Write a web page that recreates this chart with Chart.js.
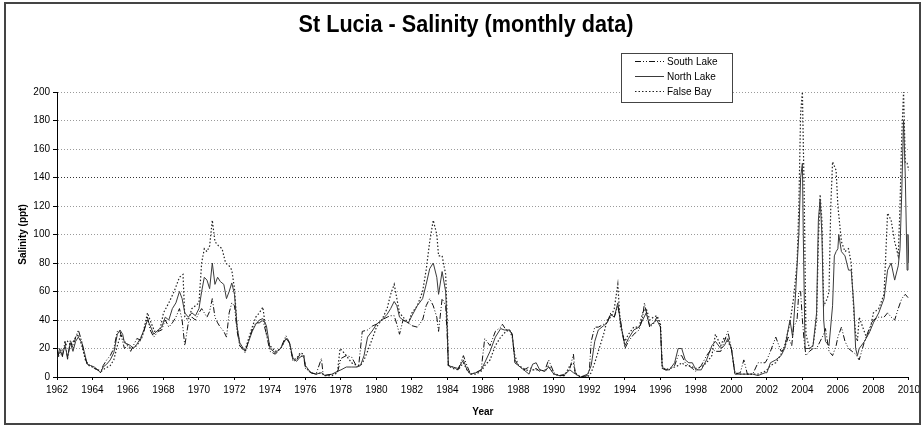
<!DOCTYPE html>
<html>
<head>
<meta charset="utf-8">
<script src="https://cdn.jsdelivr.net/npm/chart.js@4/dist/chart.umd.min.js"></script>
<style>
  html, body { margin: 0; padding: 0; background: #fff; }
</style>
</head>
<body>
<canvas id="chart" width="924" height="425"></canvas>
<script>
// labels
const titleText = 'St Lucia - Salinity (monthly data)';
const yTitle = 'Salinity (ppt)';
const xTitle = 'Year';
const seriesNames = ['South Lake', 'North Lake', 'False Bay'];
const yearTicks = [1962, 1964, 1966, 1968, 1970, 1972, 1974, 1976, 1978, 1980, 1982, 1984,
  1986, 1988, 1990, 1992, 1994, 1996, 1998, 2000, 2002, 2004, 2006, 2008, 2010];
const salinityTicks = [0, 20, 40, 60, 80, 100, 120, 140, 160, 180, 200];

// [year, salinity ppt]
const southLake = [
  [1962.0,13],[1962.15,18],[1962.3,14],[1962.45,25],[1962.6,12],[1962.75,26],[1962.9,20],[1963.05,28],
  [1963.2,33],[1963.4,25],[1963.55,15],[1963.7,9],[1963.9,8],[1964.1,6],[1964.3,5],[1964.45,3],
  [1964.6,8],[1964.8,12],[1965.0,15],[1965.2,20],[1965.4,32],[1965.55,32],[1965.7,25],[1965.8,20],
  [1966.0,22],[1966.15,18],[1966.3,22],[1966.5,27],[1966.7,26],[1966.9,32],[1967.1,42],[1967.25,33],
  [1967.45,28],[1967.7,32],[1967.9,33],[1968.1,40],[1968.3,35],[1968.5,38],[1968.7,42],[1968.9,48],
  [1969.05,40],[1969.2,22],[1969.4,38],[1969.6,42],[1969.8,40],[1970.0,45],[1970.15,48],[1970.3,45],
  [1970.45,42],[1970.6,46],[1970.75,55],[1970.9,42],[1971.05,38],[1971.2,35],[1971.4,32],[1971.55,28],
  [1971.7,45],[1971.85,52],[1972.0,50],[1972.15,32],[1972.3,22],[1972.5,19],[1972.6,17],[1972.8,26],
  [1973.0,33],[1973.2,38],[1973.4,38],[1973.6,40],[1973.8,30],[1974.0,18],[1974.3,16],[1974.6,20],
  [1974.9,29],[1975.1,24],[1975.3,11],[1975.5,12],[1975.7,16],[1975.9,14],[1976.0,6],[1976.3,3],
  [1976.6,2],[1976.9,13],[1977.0,1],[1977.5,2],[1977.8,3],[1978.0,13],[1978.3,15],[1978.6,14],
  [1978.9,7],[1979.0,8],[1979.2,32],[1979.5,33],[1979.8,36],[1980.0,37],[1980.3,40],[1980.6,42],
  [1980.8,43],[1981.0,43],[1981.15,37],[1981.3,30],[1981.5,40],[1981.8,38],[1982.0,36],[1982.3,35],
  [1982.6,40],[1982.8,50],[1983.0,55],[1983.2,50],[1983.4,42],[1983.5,32],[1983.7,55],[1983.9,50],
  [1984.0,25],[1984.05,8],[1984.3,7],[1984.6,5],[1984.9,15],[1985.1,8],[1985.3,2],[1985.6,3],
  [1985.9,5],[1986.1,27],[1986.4,22],[1986.7,32],[1987.0,35],[1987.1,37],[1987.3,33],[1987.5,33],
  [1987.65,30],[1987.8,10],[1988.0,8],[1988.3,5],[1988.6,7],[1988.8,5],[1989.0,6],[1989.2,4],
  [1989.5,5],[1989.7,12],[1990.0,3],[1990.3,1],[1990.6,1],[1990.9,6],[1991.1,16],[1991.2,2],
  [1991.5,0],[1991.9,1],[1992.0,5],[1992.1,25],[1992.3,35],[1992.5,35],[1992.8,37],[1993.0,38],
  [1993.2,45],[1993.4,42],[1993.6,50],[1993.75,40],[1994.0,20],[1994.2,25],[1994.5,30],[1994.8,33],
  [1995.0,42],[1995.1,52],[1995.3,40],[1995.4,35],[1995.6,37],[1995.8,42],[1996.0,36],[1996.1,6],
  [1996.3,5],[1996.5,5],[1996.8,8],[1997.0,15],[1997.2,15],[1997.4,10],[1997.6,8],[1997.8,6],
  [1998.0,4],[1998.3,8],[1998.6,15],[1998.9,20],[1999.1,18],[1999.4,18],[1999.6,25],[1999.8,32],
  [2000.0,20],[2000.2,2],[2000.5,3],[2000.7,12],[2000.9,2],[2001.2,2],[2001.5,10],[2001.9,10],
  [2002.0,12],[2002.2,18],[2002.5,28],[2002.8,18],[2003.0,20],[2003.2,28],[2003.4,22],[2003.5,35],
  [2003.7,40],[2003.8,60],[2003.9,60],[2004.0,40],[2004.1,25],[2004.2,15],[2004.4,18],[2004.6,20],
  [2004.8,20],[2005.0,25],[2005.2,30],[2005.3,34],[2005.5,18],[2005.7,15],[2005.9,22],[2006.0,28],
  [2006.2,35],[2006.4,25],[2006.6,20],[2006.8,18],[2007.0,16],[2007.2,12],[2007.5,25],[2007.8,35],
  [2008.0,40],[2008.3,42],[2008.6,42],[2008.8,45],[2009.0,42],[2009.2,40],[2009.4,48],[2009.6,55],
  [2009.8,58],[2010.0,55],[2010.05,57]
];

const northLake = [
  [1962.0,13],[1962.15,20],[1962.3,15],[1962.45,22],[1962.6,14],[1962.75,24],[1962.9,18],[1963.05,25],
  [1963.2,28],[1963.4,24],[1963.55,17],[1963.7,9],[1963.9,8],[1964.1,7],[1964.3,5],[1964.45,3],
  [1964.6,7],[1964.8,9],[1965.0,12],[1965.2,17],[1965.4,30],[1965.55,33],[1965.7,30],[1965.8,24],
  [1966.0,23],[1966.15,22],[1966.3,20],[1966.5,23],[1966.7,27],[1966.9,33],[1967.1,40],[1967.25,36],
  [1967.45,30],[1967.7,33],[1967.9,35],[1968.1,42],[1968.3,40],[1968.5,48],[1968.7,52],[1968.9,60],
  [1969.05,55],[1969.2,45],[1969.4,42],[1969.6,45],[1969.8,43],[1970.0,48],[1970.15,60],[1970.3,70],
  [1970.45,68],[1970.6,62],[1970.75,80],[1970.9,65],[1971.05,70],[1971.2,67],[1971.4,65],[1971.55,55],
  [1971.7,60],[1971.85,66],[1972.0,58],[1972.15,35],[1972.3,24],[1972.5,20],[1972.6,18],[1972.8,25],
  [1973.0,32],[1973.2,37],[1973.4,40],[1973.6,41],[1973.8,36],[1974.0,20],[1974.3,17],[1974.6,20],
  [1974.9,27],[1975.1,24],[1975.3,13],[1975.5,11],[1975.7,14],[1975.9,15],[1976.0,8],[1976.3,3],
  [1976.6,2],[1976.9,3],[1977.1,1],[1977.5,2],[1977.8,4],[1978.0,5],[1978.3,7],[1978.6,7],
  [1978.9,7],[1979.1,8],[1979.3,15],[1979.5,28],[1979.8,33],[1980.0,37],[1980.3,40],[1980.6,44],
  [1980.8,48],[1981.0,53],[1981.15,50],[1981.3,42],[1981.5,40],[1981.8,38],[1982.0,43],[1982.3,50],
  [1982.6,55],[1982.8,65],[1983.0,76],[1983.2,80],[1983.4,70],[1983.5,58],[1983.7,74],[1983.9,60],
  [1984.0,30],[1984.05,8],[1984.3,7],[1984.6,6],[1984.9,12],[1985.1,5],[1985.3,2],[1985.6,3],
  [1985.9,5],[1986.1,10],[1986.4,18],[1986.7,28],[1987.0,34],[1987.2,33],[1987.5,33],[1987.65,30],
  [1987.8,12],[1988.0,8],[1988.3,5],[1988.6,2],[1988.8,9],[1989.0,10],[1989.2,5],[1989.5,4],
  [1989.7,7],[1990.0,2],[1990.3,1],[1990.6,2],[1990.9,5],[1991.1,3],[1991.5,0],[1991.9,2],
  [1992.1,8],[1992.3,25],[1992.5,33],[1992.8,36],[1993.0,38],[1993.2,44],[1993.4,42],[1993.6,52],
  [1993.75,38],[1994.0,22],[1994.2,27],[1994.5,33],[1994.8,35],[1995.0,40],[1995.2,45],[1995.4,36],
  [1995.6,38],[1995.8,40],[1996.0,35],[1996.1,7],[1996.3,5],[1996.5,5],[1996.8,10],[1997.0,20],
  [1997.2,20],[1997.4,12],[1997.6,10],[1997.8,10],[1998.0,5],[1998.3,5],[1998.6,12],[1998.9,22],
  [1999.1,25],[1999.4,20],[1999.6,22],[1999.8,27],[2000.0,20],[2000.2,2],[2000.5,2],[2000.9,2],
  [2001.2,2],[2001.5,1],[2001.9,3],[2002.0,3],[2002.2,10],[2002.5,12],[2002.8,15],[2003.0,20],
  [2003.3,40],[2003.45,28],[2003.6,55],[2003.8,100],[2003.9,140],[2004.0,150],[2004.05,100],[2004.15,20],
  [2004.4,20],[2004.6,22],[2004.8,45],[2004.9,110],[2005.0,125],[2005.1,100],[2005.2,40],[2005.3,25],
  [2005.5,22],[2005.7,50],[2005.8,85],[2005.9,88],[2006.0,90],[2006.05,100],[2006.2,88],[2006.4,85],
  [2006.6,75],[2006.75,75],[2006.9,50],[2007.0,20],[2007.1,15],[2007.2,20],[2007.5,25],[2007.8,32],
  [2008.0,38],[2008.3,45],[2008.6,55],[2008.8,75],[2009.0,80],[2009.2,68],[2009.4,78],[2009.5,90],
  [2009.6,130],[2009.7,180],[2009.8,140],[2009.9,75],[2009.95,100],[2010.0,80],[2010.05,110]
];

const falseBay = [
  [1962.0,12],[1962.2,18],[1962.4,20],[1962.6,25],[1962.8,22],[1963.0,27],[1963.2,30],[1963.4,22],
  [1963.6,12],[1963.8,8],[1964.0,7],[1964.3,5],[1964.5,4],[1964.7,6],[1965.0,8],[1965.2,12],
  [1965.4,22],[1965.6,30],[1965.8,25],[1966.0,22],[1966.2,20],[1966.5,22],[1966.8,28],[1967.1,45],
  [1967.3,38],[1967.5,32],[1967.8,33],[1968.0,45],[1968.3,52],[1968.6,60],[1968.9,70],[1969.1,72],
  [1969.2,42],[1969.4,40],[1969.6,48],[1969.8,50],[1970.0,52],[1970.15,80],[1970.3,90],[1970.45,88],
  [1970.6,92],[1970.75,110],[1970.9,95],[1971.1,92],[1971.3,90],[1971.5,80],[1971.7,78],[1971.85,75],
  [1972.0,62],[1972.15,35],[1972.3,22],[1972.5,20],[1972.6,19],[1972.8,27],[1973.0,35],[1973.2,42],
  [1973.4,45],[1973.6,49],[1973.8,30],[1974.0,22],[1974.3,18],[1974.6,20],[1974.9,27],[1975.1,24],
  [1975.3,12],[1975.5,13],[1975.7,17],[1975.9,16],[1976.0,7],[1976.3,3],[1976.6,2],[1976.9,3],
  [1977.1,1],[1977.5,1],[1977.8,3],[1977.95,20],[1978.1,18],[1978.3,15],[1978.6,10],[1978.9,8],
  [1979.1,8],[1979.3,12],[1979.5,18],[1979.8,28],[1980.0,35],[1980.3,40],[1980.6,48],[1980.8,58],
  [1981.0,65],[1981.15,55],[1981.3,45],[1981.5,42],[1981.8,38],[1982.0,45],[1982.3,50],[1982.6,60],
  [1982.8,75],[1983.0,95],[1983.2,110],[1983.4,100],[1983.5,85],[1983.7,85],[1983.9,72],[1984.0,35],
  [1984.05,8],[1984.3,6],[1984.6,5],[1984.9,10],[1985.1,5],[1985.3,2],[1985.6,2],[1985.9,4],
  [1986.1,8],[1986.4,12],[1986.7,22],[1987.0,28],[1987.3,32],[1987.5,33],[1987.65,28],[1987.8,15],
  [1988.0,8],[1988.3,6],[1988.6,4],[1988.8,5],[1989.0,5],[1989.2,5],[1989.5,4],[1989.7,8],
  [1990.0,2],[1990.3,1],[1990.6,1],[1990.9,8],[1991.1,10],[1991.2,3],[1991.5,0],[1991.9,0],
  [1992.1,3],[1992.3,10],[1992.5,18],[1992.8,30],[1993.0,40],[1993.2,42],[1993.4,48],[1993.6,65],
  [1993.75,35],[1994.0,25],[1994.2,30],[1994.5,35],[1994.8,35],[1995.0,45],[1995.2,48],[1995.4,40],
  [1995.6,42],[1995.8,43],[1996.0,38],[1996.1,8],[1996.3,5],[1996.5,6],[1996.8,7],[1997.0,8],
  [1997.2,10],[1997.4,8],[1997.6,8],[1998.0,6],[1998.3,7],[1998.6,10],[1998.9,15],[1999.1,30],
  [1999.4,22],[1999.6,28],[1999.8,25],[2000.0,20],[2000.2,3],[2000.5,2],[2000.9,2],[2001.2,2],
  [2001.5,2],[2001.9,4],[2002.0,5],[2002.2,8],[2002.5,10],[2002.8,16],[2003.0,22],[2003.3,38],
  [2003.5,55],[2003.7,80],[2003.8,120],[2003.9,185],[2004.0,200],[2004.1,130],[2004.2,30],[2004.4,20],
  [2004.6,22],[2004.8,40],[2004.9,95],[2005.0,128],[2005.1,110],[2005.2,50],[2005.4,55],[2005.5,60],
  [2005.6,120],[2005.7,151],[2005.9,145],[2006.0,120],[2006.2,95],[2006.4,88],[2006.6,90],[2006.75,80],
  [2006.9,45],[2007.0,30],[2007.1,25],[2007.2,42],[2007.4,35],[2007.6,28],[2007.8,32],[2008.0,45],
  [2008.3,48],[2008.6,58],[2008.8,115],[2009.0,110],[2009.2,95],[2009.4,85],[2009.5,120],[2009.6,170],
  [2009.7,200],[2009.8,150],[2009.9,150],[2010.0,145],[2010.05,150]
];

const toPoints = arr => arr.map(([x, y]) => ({ x, y }));
const FONT = '"Liberation Sans", Arial, sans-serif';

const styles = [
  { color: '#111', dash: [6, 2, 1, 2, 1, 2], width: 1 },
  { color: '#3a3a3a', dash: [], width: 1 },
  { color: '#222', dash: [1.5, 2], width: 1.2 }
];

// title, legend box and outer frame
const decorations = {
  id: 'decorations',
  afterDraw(chart) {
    const ctx = chart.ctx;
    ctx.save();
    ctx.strokeStyle = '#444';
    ctx.lineWidth = 2;
    ctx.strokeRect(5, 3, 915, 421);

    // title is a little condensed in the original
    ctx.save();
    ctx.translate(466, 25);
    ctx.scale(0.9, 1);
    ctx.fillStyle = '#000';
    ctx.font = 'bold 24px ' + FONT;
    ctx.textAlign = 'center';
    ctx.textBaseline = 'middle';
    ctx.fillText(titleText, 0, 0);
    ctx.restore();

    ctx.fillStyle = '#fff';
    ctx.fillRect(621, 53, 111, 49);
    ctx.strokeStyle = '#444';
    ctx.lineWidth = 1;
    ctx.strokeRect(621.5, 53.5, 111, 49);
    ctx.font = '10px ' + FONT;
    ctx.textAlign = 'left';
    ctx.textBaseline = 'middle';
    const rows = [61, 76, 91];
    seriesNames.forEach((name, i) => {
      const s = styles[i];
      ctx.strokeStyle = s.color;
      ctx.lineWidth = s.width;
      ctx.setLineDash(s.dash);
      ctx.beginPath();
      ctx.moveTo(635, rows[i] + 0.5);
      ctx.lineTo(664, rows[i] + 0.5);
      ctx.stroke();
      ctx.setLineDash([]);
      ctx.fillStyle = '#000';
      ctx.fillText(name, 667, rows[i] + 1);
    });
    ctx.restore();
  }
};

new Chart(document.getElementById('chart'), {
  type: 'line',
  data: {
    datasets: [southLake, northLake, falseBay].map((arr, i) => ({
      label: seriesNames[i],
      data: toPoints(arr),
      borderColor: styles[i].color,
      borderDash: styles[i].dash,
      borderWidth: styles[i].width,
      pointRadius: 0,
      tension: 0,
      fill: false
    }))
  },
  options: {
    responsive: false,
    animation: false,
    events: [],
    layout: { padding: { top: 92, right: 14, bottom: 5, left: 13 } },
    plugins: {
      legend: { display: false },
      title: { display: false },
      tooltip: { enabled: false }
    },
    scales: {
      x: {
        type: 'linear',
        min: 1962,
        max: 2010,
        afterBuildTicks: s => { s.ticks = yearTicks.map(v => ({ value: v })); },
        afterFit: s => { s.height = 43; },
        grid: { drawOnChartArea: false, tickLength: 3, color: '#000' },
        border: { color: '#000', width: 1 },
        ticks: { color: '#000', font: { size: 10, family: FONT }, padding: 4, maxRotation: 0, autoSkip: false, callback: v => String(v) },
        title: { display: true, text: xTitle, color: '#000', font: { size: 10, weight: 'bold', family: FONT }, padding: { top: 2, bottom: 2 } }
      },
      y: {
        min: 0,
        max: 200,
        afterBuildTicks: s => { s.ticks = salinityTicks.map(v => ({ value: v })); },
        afterFit: s => { s.width = 44; },
        grid: {
          color: c => (c.tick && c.tick.value === 140) ? '#333' : '#9a9a9a',
          tickColor: '#000',
          tickLength: 4,
          tickBorderDash: []
        },
        border: { color: '#000', width: 1, dash: [1, 2] },
        ticks: { color: '#000', font: { size: 10, family: FONT }, padding: 3 },
        title: { display: true, text: yTitle, color: '#000', font: { size: 10, weight: 'bold', family: FONT }, padding: { top: 4, bottom: 2 } }
      }
    }
  },
  plugins: [decorations]
});
</script>
</body>
</html>
